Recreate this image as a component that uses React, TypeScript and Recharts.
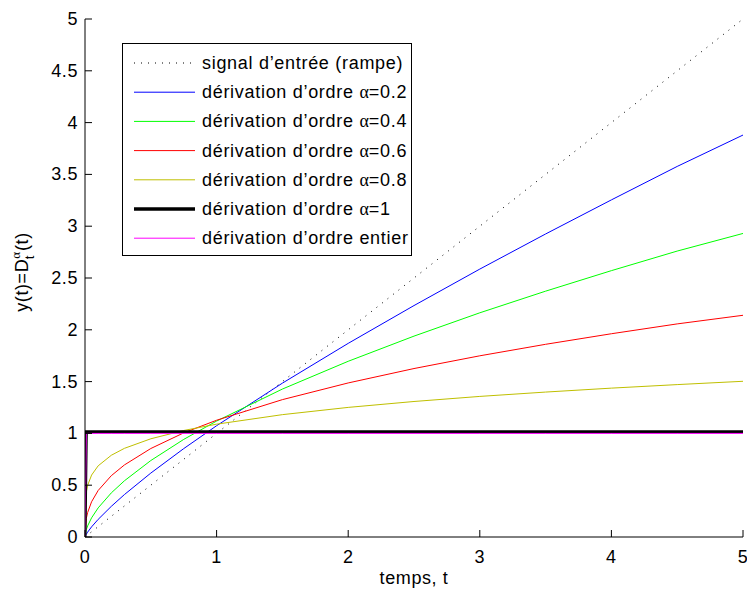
import React from 'react';
import { LineChart, Line, XAxis, YAxis } from 'recharts';

// sample instants (s)
const times = [0, 0.01, 0.02, 0.05, 0.1, 0.2, 0.3, 0.5, 0.75, 1, 1.5, 2, 2.5, 3, 3.5, 4, 4.5, 5];

// values
const ramp = [0, 0.01, 0.02, 0.05, 0.1, 0.2, 0.3, 0.5, 0.75, 1, 1.5, 2, 2.5, 3, 3.5, 4, 4.5, 5];
const order02 = [0, 0.027, 0.047, 0.098, 0.17, 0.296, 0.41, 0.617, 0.853, 1.074, 1.485, 1.869, 2.234, 2.586, 2.925, 3.254, 3.577, 3.88];
const order04 = [0, 0.071, 0.107, 0.185, 0.281, 0.426, 0.543, 0.738, 0.942, 1.119, 1.428, 1.696, 1.939, 2.164, 2.373, 2.571, 2.76, 2.93];
const order06 = [0, 0.179, 0.236, 0.34, 0.449, 0.592, 0.696, 0.854, 1.005, 1.127, 1.326, 1.487, 1.626, 1.749, 1.86, 1.962, 2.057, 2.14];
const order08 = [0, 0.434, 0.498, 0.598, 0.687, 0.789, 0.856, 0.948, 1.028, 1.089, 1.181, 1.251, 1.308, 1.357, 1.399, 1.437, 1.471, 1.503];
const order1 = [0, 1.015, 1.015, 1.015, 1.015, 1.015, 1.015, 1.015, 1.015, 1.015, 1.015, 1.015, 1.015, 1.015, 1.015, 1.015, 1.015, 1.015];
const integer = [0, 1, 1, 1, 1, 1, 1, 1, 1, 1, 1, 1, 1, 1, 1, 1, 1, 1];

const xTicks = [0, 1, 2, 3, 4, 5];
const yTicks = [0, 0.5, 1, 1.5, 2, 2.5, 3, 3.5, 4, 4.5, 5];

const series = [
  { key: 'ramp', values: ramp, name: 'signal d\u2019entrée (rampe)', alpha: '', color: '#000000', width: 1, dash: '1 6' },
  { key: 'a02', values: order02, name: 'dérivation d\u2019ordre ', alpha: '=0.2', color: '#0000ff', width: 1 },
  { key: 'a04', values: order04, name: 'dérivation d\u2019ordre ', alpha: '=0.4', color: '#00ff00', width: 1 },
  { key: 'a06', values: order06, name: 'dérivation d\u2019ordre ', alpha: '=0.6', color: '#ff0000', width: 1 },
  { key: 'a08', values: order08, name: 'dérivation d\u2019ordre ', alpha: '=0.8', color: '#bfbf00', width: 1 },
  { key: 'a1', values: order1, name: 'dérivation d\u2019ordre ', alpha: '=1', color: '#000000', width: 3 },
  { key: 'int', values: integer, name: 'dérivation d\u2019ordre entier', alpha: '', color: '#ff00ff', width: 1 },
];

const data = times.map((t, i) => {
  const row: Record<string, number> = { t };
  series.forEach(s => { row[s.key] = s.values[i]; });
  return row;
});

const FONT = '"Liberation Sans", Arial, Helvetica, sans-serif';
const TICK = 7;

const BottomTick = ({ x, y, payload }: any) => (
  <g>
    <line x1={x} x2={x} y1={y} y2={y - TICK} stroke="#000" />
    <text x={x} y={y + 26} textAnchor="middle" fontSize={18} fontFamily={FONT} letterSpacing={0.6} fill="#000">{payload.value}</text>
  </g>
);
const TopTick = ({ x, y }: any) => <line x1={x} x2={x} y1={y} y2={y + TICK} stroke="#000" />;
const LeftTick = ({ x, y, payload }: any) => (
  <g>
    <line x1={x} x2={x + TICK} y1={y} y2={y} stroke="#000" />
    <text x={x - 7} y={y + 6} textAnchor="end" fontSize={18} fontFamily={FONT} letterSpacing={0.6} fill="#000">{payload.value}</text>
  </g>
);
const RightTick = ({ x, y }: any) => <line x1={x} x2={x - TICK} y1={y} y2={y} stroke="#000" />;

const Legend = () => (
  <g fontFamily={FONT} fontSize={18} letterSpacing={0.7}>
    <rect x={122.5} y={43.5} width={289} height={212} fill="#fff" stroke="#000" />
    {series.map((s, i) => {
      const cy = 63 + i * 29.2;
      return (
        <g key={s.key}>
          <line x1={134} x2={195} y1={cy} y2={cy} stroke={s.color} strokeWidth={s.width === 3 ? 3.5 : s.width} strokeDasharray={s.dash} />
          <text x={202} y={cy + 6} fill="#000">
            {s.name}
            {s.alpha && <tspan fontFamily='"Liberation Serif", serif' letterSpacing={0}>α</tspan>}
            {s.alpha}
          </text>
        </g>
      );
    })}
  </g>
);

const YLabel = () => (
  <text transform="translate(28,272) rotate(-90)" textAnchor="middle" fontFamily={FONT} fontSize={18} letterSpacing={0.6} fill="#000">
    y(t)=D
    <tspan dy={-8} fontSize={13} fontFamily='"Liberation Serif", serif'>α</tspan>
    <tspan dx={-8} dy={14} fontSize={13}>t</tspan>
    <tspan dx={4} dy={-6}>(t)</tspan>
  </text>
);

export default function App() {
  return (
    <div style={{ position: 'absolute', left: 0, top: 0, width: 747, height: 589, background: '#fff' }}>
      <LineChart width={747} height={589} data={data} margin={{ top: 19, right: 4, bottom: 0, left: 0 }}>
        <XAxis dataKey="t" type="number" domain={[0, 5]} ticks={xTicks} interval={0} tickSize={0} tickMargin={0}
          tickLine={false} tick={BottomTick} axisLine={{ stroke: '#000' }} height={52} allowDataOverflow />
        <XAxis xAxisId="top" orientation="top" dataKey="t" type="number" domain={[0, 5]} ticks={xTicks} interval={0}
          tickSize={0} tickMargin={0} tickLine={false} tick={TopTick} axisLine={{ stroke: '#000' }} height={0} allowDataOverflow />
        <YAxis type="number" domain={[0, 5]} ticks={yTicks} interval={0} tickSize={0} tickMargin={0}
          tickLine={false} tick={LeftTick} axisLine={{ stroke: '#000' }} width={85} allowDataOverflow />
        <YAxis yAxisId="right" orientation="right" type="number" domain={[0, 5]} ticks={yTicks} interval={0}
          tickSize={0} tickMargin={0} tickLine={false} tick={RightTick} axisLine={{ stroke: '#000' }} width={0} allowDataOverflow />
        {series.map(s => (
          <Line key={s.key} dataKey={s.key} type="linear" stroke={s.color} strokeWidth={s.width}
            strokeDasharray={s.dash} dot={false} activeDot={false} isAnimationActive={false} />
        ))}
      </LineChart>
      <svg width={747} height={589} style={{ position: 'absolute', left: 0, top: 0, pointerEvents: 'none' }}>
        <Legend />
        <YLabel />
        <text x={414} y={584} textAnchor="middle" fontFamily={FONT} fontSize={18} letterSpacing={0.6} fill="#000">temps, t</text>
      </svg>
    </div>
  );
}
